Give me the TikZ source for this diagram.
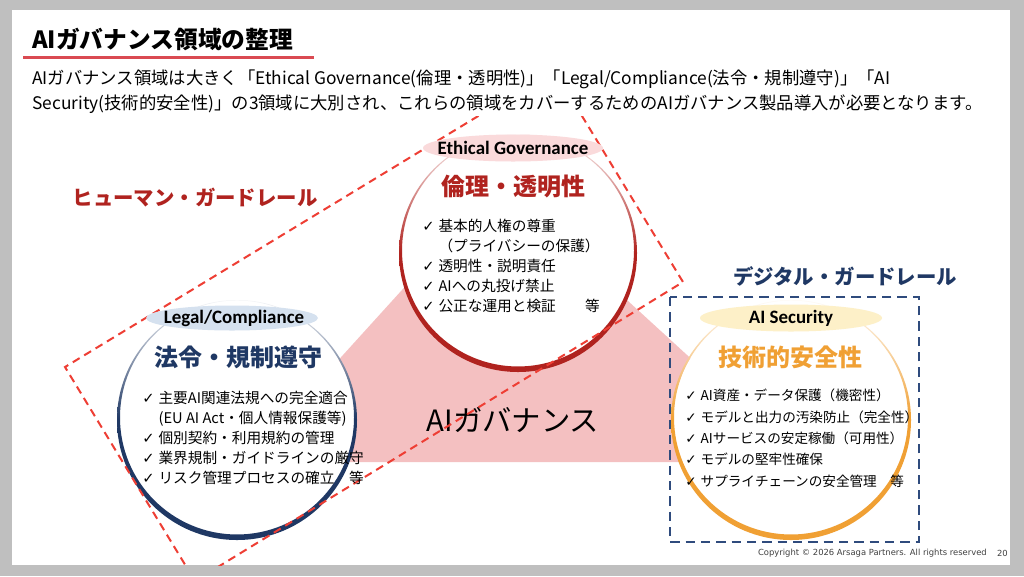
\documentclass[tikz,border=0pt]{standalone}
\usepackage{fontspec}
\setmainfont{Noto Sans CJK JP}
\newfontfamily\tagfont{Carlito}
\newfontfamily\symfont{DejaVu Sans}
\usepackage{tikz}
\definecolor{slidegray}{RGB}{191,191,191}
\definecolor{ethred}{RGB}{176,35,31}
\definecolor{legnavy}{RGB}{31,56,100}
\definecolor{secorange}{RGB}{240,160,52}
\definecolor{govpink}{RGB}{244,192,193}
\definecolor{tagpink}{RGB}{250,218,219}
\definecolor{tagblue}{RGB}{213,225,239}
\definecolor{tagyellow}{RGB}{253,240,200}
\definecolor{dashred}{RGB}{238,62,52}
\definecolor{dashnavy}{RGB}{47,75,125}
\definecolor{underred}{RGB}{218,74,82}
\newcommand{\ck}{{\symfont\char"2713}\hspace{3pt}}
\tikzset{%
	tag/.style={
		inner sep=0pt,
		font=\tagfont\bfseries\fontsize{14.2pt}{15pt}\selectfont
	},
	heading/.style={
		font=\bfseries\fontsize{18pt}{20pt}\selectfont
	},
	checklist/.style={
		align=left,
		anchor=north west,
		inner sep=0pt,
		font=\fontsize{11pt}{15pt}\selectfont
	},
	guard/.style={
		font=\bfseries\fontsize{15.3pt}{17pt}\selectfont
	},
	humanline/.style={dashred, line width=1.5pt, dash pattern=on 6pt off 4pt},
	digitalline/.style={dashnavy, line width=1.5pt, dash pattern=on 7pt off 4.5pt},
}

\begin{document}
\begin{tikzpicture}[x=0.75pt, y=-0.75pt]
	% slide
	\fill[slidegray] (0,0) rectangle (1024,576);
	\useasboundingbox (0,0) rectangle (1024,576);
	\fill[white] (12,10) rectangle (1010,565);
	
	% title and text
	\node[anchor=west, inner sep=0pt, font=\bfseries\fontsize{17.8pt}{20pt}\selectfont] (title) at (32,39) {AIガバナンス領域の整理};
	\draw[underred, line width=2.25pt] (23,57.5) -- (314,57.5);
	\node[anchor=north west, inner sep=0pt, align=left, font=\fontsize{13pt}{18.75pt}\selectfont] (intro) at (32,70)
		{AIガバナンス領域は大きく「Ethical Governance(倫理・透明性)」「Legal/Compliance(法令・規制遵守)」「AI\\
		Security(技術的安全性)」の3領域に大別され、これらの領域をカバーするためのAIガバナンス製品導入が必要となります。};
	
	% centres of the three circles
	\coordinate (eth) at (518,253);
	\coordinate (leg) at (237,420);
	\coordinate (sec) at (791,420);
	
	% pink triangle
	\fill[govpink] (499,183) -- (804,462) -- (246,462) -- cycle;
	\node[font=\fontsize{22pt}{24pt}\selectfont] (gov) at (513,420) {AIガバナンス};
	
	% Ethical circle
	\fill[white] (eth) circle (117);
	\path[even odd rule, top color=ethred!5, bottom color=ethred, middle color=ethred] (eth) circle (119) ([yshift=1.9pt]eth) circle (116);
	
	% Legal circle
	\fill[white] (leg) circle (118);
	\path[even odd rule, top color=legnavy!5, bottom color=legnavy, middle color=legnavy] (leg) circle (120) ([yshift=1.9pt]leg) circle (117);
	
	% Security circle
	\fill[white] (sec) circle (118);
	\path[even odd rule, top color=secorange!5, bottom color=secorange, middle color=secorange] (sec) circle (120) ([yshift=1.9pt]sec) circle (117);
	
	% human guardrail
	\coordinate (hg-t) at (554,70);
	\coordinate (hg-r) at (683,282);
	\coordinate (hg-b) at (195,581);
	\coordinate (hg-l) at (65,367);
	\begin{scope}
		\clip (12,116) rectangle (1010,565);
		\draw[humanline] (hg-t) -- (hg-r) -- (hg-b) -- (hg-l) -- cycle;
	\end{scope}
	\node[guard, text=ethred] (human) at (195,198) {ヒューマン・ガードレール};
	
	% digital guardrail
	\coordinate (dg-nw) at (670,297);
	\coordinate (dg-se) at (919,542);
	\draw[digitalline] (dg-nw) rectangle (dg-se);
	\node[guard, text=legnavy] (digital) at (845,276) {デジタル・ガードレール};
	
	% tags
	\fill[tagpink] (513,148) ellipse (90 and 13.5);
	\node[tag] (eth-tag) at (513,148) {Ethical Governance};
	\fill[tagblue] (232,318) ellipse (86 and 12.5);
	\node[tag] (leg-tag) at (234,318) {Legal/Compliance};
	\fill[tagyellow] (791,318) ellipse (91 and 13.5);
	\node[tag] (sec-tag) at (791,318) {AI Security};
	
	% headings
	\node[heading, text=ethred] (eth-head) at (513,186) {倫理・透明性};
	\node[heading, text=legnavy] (leg-head) at (238,357) {法令・規制遵守};
	\node[heading, text=secorange] (sec-head) at (790,357) {技術的安全性};
	
	% lists
	\node[checklist] (eth-list) at (422,219) {\ck 基本的人権の尊重\\
		\phantom{\ck}（プライバシーの保護）\\
		\ck 透明性・説明責任\\
		\ck AIへの丸投げ禁止\\
		\ck 公正な運用と検証　　等};
	\node[checklist] (leg-list) at (142,391) {\ck 主要AI関連法規への完全適合\\
		\phantom{\ck}(EU AI Act・個人情報保護等)\\
		\ck 個別契約・利用規約の管理\\
		\ck 業界規制・ガイドラインの厳守\\
		\ck リスク管理プロセスの確立　等};
	\node[checklist, font=\fontsize{10.2pt}{16pt}\selectfont] (sec-list) at (685,389) {\ck AI資産・データ保護（機密性）\\
		\ck モデルと出力の汚染防止（完全性）\\
		\ck AIサービスの安定稼働（可用性）\\
		\ck モデルの堅牢性確保\\
		\ck サプライチェーンの安全管理　等};
	
	% footer
	\node[anchor=east, inner sep=0pt, font=\symfont\fontsize{6.3pt}{7pt}\selectfont, text=black!75] (copy) at (987,553) {Copyright © 2026 Arsaga Partners. All rights reserved};
	\node[anchor=east, inner sep=0pt, font=\symfont\fontsize{6.3pt}{7pt}\selectfont, text=black!75] (page) at (1008,553) {20};
\end{tikzpicture}
\end{document}
